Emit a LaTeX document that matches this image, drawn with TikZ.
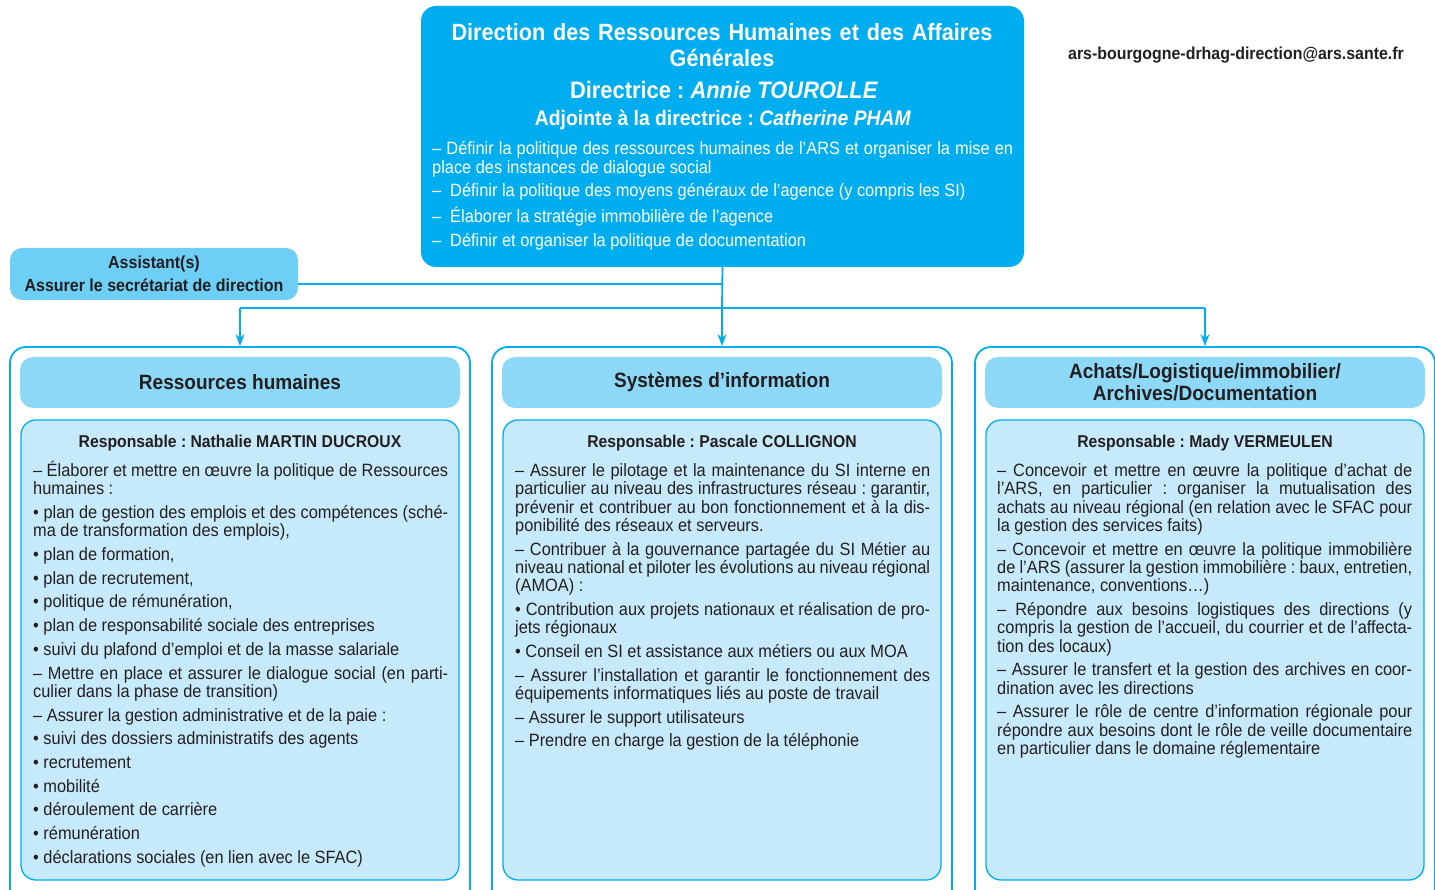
\documentclass[tikz,border=0pt]{standalone}
\usepackage{fontspec}
\setmainfont{Liberation Sans}[FakeStretch=0.92,WordSpace={1,1,2}]
\usepackage{xcolor}
\usetikzlibrary{arrows.meta,calc}

\definecolor{arscyan}{RGB}{0,174,239}
\definecolor{asstblue}{RGB}{109,207,246}
\definecolor{headblue}{RGB}{142,216,247}
\definecolor{paleblue}{RGB}{199,234,251}
\definecolor{inkdark}{RGB}{35,31,32}

\newcommand{\bodyset}{\setlength{\parskip}{5.4pt}\hyphenpenalty=10000\tolerance=9999\emergencystretch=20pt}
\frenchspacing

\begin{document}
\begin{tikzpicture}[x=1pt,y=-1pt,>={Stealth[length=12pt,width=9pt]},
	link/.style={arscyan,line width=1.8pt},
	column/.style={draw=arscyan,line width=1.8pt,fill=white,rounded corners=16pt,minimum width=460pt,minimum height=570pt,inner sep=0pt},
	colhead/.style={fill=headblue,rounded corners=13pt,minimum width=440pt,minimum height=51pt,inner sep=0pt,align=center,text=inkdark,font=\bfseries\fontsize{20.7}{22}\selectfont},
	colbody/.style={draw=arscyan,line width=1.3pt,fill=paleblue,rounded corners=15pt,minimum width=438pt,minimum height=460pt,inner sep=0pt},
	chief/.style={text=inkdark,inner sep=0pt,anchor=base,font=\bfseries\fontsize{17.1}{18}\selectfont},
	bodytext/.style={text width=415pt,align=justify,inner sep=0pt,anchor=base west,text=inkdark,font=\fontsize{17.8}{18.3}\selectfont},
	]
	\newcommand{\colRH}{240}
	\newcommand{\colSI}{722}
	\newcommand{\colAL}{1205}

	\useasboundingbox (0,0) rectangle (1435,890);
	\clip (0,0) rectangle (1435,890);

	% direction
	\node[fill=arscyan,rounded corners=15pt,minimum width=603pt,minimum height=261pt,inner sep=0pt] (dir) at (722.5,136.5) {};
	\node[text width=580pt,align=center,inner sep=0pt,anchor=base,text=white,font=\bfseries\fontsize{23.5}{26}\selectfont] (dirtitle) at (722,41)
		{Direction des Ressources Humaines et des Affaires\\Générales};
	\node[inner sep=0pt,anchor=base,text=white,font=\bfseries\fontsize{23.8}{26}\selectfont] (dirhead) at (724,99)
		{Directrice : \textit{Annie TOUROLLE}};
	\node[inner sep=0pt,anchor=base,text=white,font=\bfseries\fontsize{21}{23}\selectfont] (diradj) at (723,126)
		{Adjointe à la directrice : \textit{Catherine PHAM}};
	\node[text width=581pt,align=justify,inner sep=0pt,anchor=base west,text=white,font=\fontsize{17.8}{18.3}\selectfont] (dirlist) at (432,155)
		{\bodyset
		– Définir la politique des ressources humaines de l’ARS et organiser la mise en\linebreak place des instances de dialogue social\par
		–\enspace Définir la politique des moyens généraux de l’agence (y compris les SI)\par
		–\enspace Élaborer la stratégie immobilière de l’agence\par
		–\enspace Définir et organiser la politique de documentation\par};

	\node[inner sep=0pt,anchor=base,text=inkdark,font=\bfseries\fontsize{17.3}{18}\selectfont] (mail) at (1236,60)
		{ars-bourgogne-drhag-direction@ars.sante.fr};

	% assistant
	\node[fill=asstblue,rounded corners=12pt,minimum width=288pt,minimum height=52pt,inner sep=0pt,align=center,text=inkdark,font=\bfseries\fontsize{17.4}{23}\selectfont] (asst) at (154,274)
		{Assistant(s)\\Assurer le secrétariat de direction};

	% columns
	\node[column] (rh) at (\colRH,632) {};
	\node[column] (si) at (\colSI,632) {};
	\node[column] (alog) at (\colAL,632) {};

	\node[colhead] (rhhead) at (\colRH,382.5) {Ressources humaines};
	\node[colhead] (sihead) at (\colSI,382.5) {Systèmes d’information};
	\node[colhead] (aloghead) at (\colAL,382.5) {Achats/Logistique/immobilier/\\Archives/Documentation};

	\node[colbody] (rhbody) at (\colRH,650) {};
	\node[colbody] (sibody) at (\colSI,650) {};
	\node[colbody] (alogbody) at (\colAL,650) {};

	\node[chief] (rhchief) at (\colRH,447) {Responsable : Nathalie MARTIN DUCROUX};
	\node[chief] (sichief) at (\colSI,447) {Responsable : Pascale COLLIGNON};
	\node[chief] (alogchief) at (\colAL,447) {Responsable : Mady VERMEULEN};

	\node[bodytext] (rhtext) at (33,476.5)
		{\bodyset
		– Élaborer et mettre en œuvre la politique de Ressources\linebreak humaines :\par
		• plan de gestion des emplois et des compétences (sché-\linebreak ma de transformation des emplois),\par
		• plan de formation,\par
		• plan de recrutement,\par
		• politique de rémunération,\par
		• plan de responsabilité sociale des entreprises\par
		• suivi du plafond d’emploi et de la masse salariale\par
		– Mettre en place et assurer le dialogue social (en parti-\linebreak culier dans la phase de transition)\par
		– Assurer la gestion administrative et de la paie :\par
		• suivi des dossiers administratifs des agents\par
		• recrutement\par
		• mobilité\par
		• déroulement de carrière\par
		• rémunération\par
		• déclarations sociales (en lien avec le SFAC)\par};

	\node[bodytext] (sitext) at (515,476.5)
		{\bodyset
		– Assurer le pilotage et la maintenance du SI interne en\linebreak particulier au niveau des infrastructures réseau : garantir,\linebreak prévenir et contribuer au bon fonctionnement et à la dis-\linebreak ponibilité des réseaux et serveurs.\par
		– Contribuer à la gouvernance partagée du SI Métier au\linebreak niveau national et piloter les évolutions au niveau régional\linebreak (AMOA) :\par
		• Contribution aux projets nationaux et réalisation de pro-\linebreak jets régionaux\par
		• Conseil en SI et assistance aux métiers ou aux MOA\par
		– Assurer l’installation et garantir le fonctionnement des\linebreak équipements informatiques liés au poste de travail\par
		– Assurer le support utilisateurs\par
		– Prendre en charge la gestion de la téléphonie\par};

	\node[bodytext] (alogtext) at (997,476.5)
		{\bodyset
		– Concevoir et mettre en œuvre la politique d’achat de\linebreak l’ARS, en particulier : organiser la mutualisation des\linebreak achats au niveau régional (en relation avec le SFAC pour\linebreak la gestion des services faits)\par
		– Concevoir et mettre en œuvre la politique immobilière\linebreak de l’ARS (assurer la gestion immobilière : baux, entretien,\linebreak maintenance, conventions…)\par
		– Répondre aux besoins logistiques des directions (y\linebreak compris la gestion de l’accueil, du courrier et de l’affecta-\linebreak tion des locaux)\par
		– Assurer le transfert et la gestion des archives en coor-\linebreak dination avec les directions\par
		– Assurer le rôle de centre d’information régionale pour\linebreak répondre aux besoins dont le rôle de veille documentaire\linebreak en particulier dans le domaine réglementaire\par};

	% links
	\coordinate (split) at (722,308);
	\coordinate (asstout) at ($(asst.east)+(0,10)$);
	\draw[link] (dir.south) -- (split);
	\draw[link] (asstout) -- (asstout -| dir.south);
	\draw[link] (rh.north |- split) -- (alog.north |- split);
	\draw[link,->] (rh.north |- split) -- (rh.north);
	\draw[link,->] (split) -- (si.north);
	\draw[link,->] (alog.north |- split) -- (alog.north);
\end{tikzpicture}
\end{document}
